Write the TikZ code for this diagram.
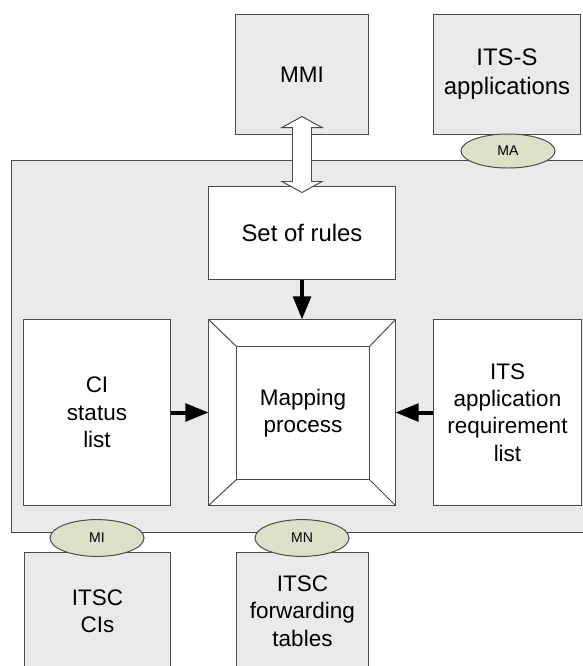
\documentclass[tikz,border=0pt]{standalone}
\usepackage{fontspec}
\setmainfont{Liberation Sans}
\usetikzlibrary{arrows.meta,calc,shapes.geometric}

\definecolor{panelgray}{HTML}{EAEAEA}
\definecolor{portgreen}{HTML}{DDE0C9}
\definecolor{edgegray}{HTML}{4A4A4A}

\tikzset{
  box/.style={draw=edgegray, line width=0.7pt, fill=white, align=center,
    inner sep=0pt, font=\fontsize{16}{19.5}\selectfont},
  graybox/.style={box, fill=panelgray},
  port/.style={ellipse, draw=edgegray, line width=0.7pt, fill=portgreen,
    minimum width=2.35cm, minimum height=0.92cm, inner sep=0pt,
    font=\fontsize{10}{12}\selectfont},
  feed/.style={line width=0.1cm, -{Triangle[length=0.58cm,width=0.44cm]}},
  dblarrow/.style={draw=edgegray, line width=0.7pt, fill=white}
}

\begin{document}
\begin{tikzpicture}[x=0.025cm, y=-0.025cm]
    \useasboundingbox (0,0) rectangle (583,666);
    \node[graybox, minimum width=14.7cm, minimum height=9.275cm] (core) at (306,346.5) {};
    \node[graybox, minimum width=3.3cm, minimum height=2.975cm] (mmi) at (302,74.5) {MMI};
    \node[graybox, minimum width=3.65cm, minimum height=2.975cm,
      font=\fontsize{17}{20.5}\selectfont] (apps) at (507,74.5) {ITS-S\\applications};
    \node[box, minimum width=4.65cm, minimum height=2.325cm,
      font=\fontsize{17}{20.5}\selectfont] (rules) at (302,232.5) {Set of rules};
    \node[box, minimum width=4.65cm, minimum height=4.625cm] (map) at (302,412.5) {};
    \node[box, minimum width=3.3cm, minimum height=3.3cm] (mapin) at (303,413) {Mapping\\process};
    \foreach \c in {north west, north east, south west, south east}
      \draw[draw=edgegray, line width=0.7pt] (map.\c) -- (mapin.\c);
    \node[box, minimum width=3.65cm, minimum height=4.65cm] (ci) at (97,412.5) {CI\\status\\list};
    \node[box, minimum width=3.675cm, minimum height=4.65cm] (req) at (507.5,412.5) {ITS\\application\\requirement\\list};
    \node[graybox, minimum width=3.625cm, minimum height=2.95cm] (itscci) at (97.5,611) {ITSC\\CIs};
    \node[graybox, minimum width=3.275cm, minimum height=2.95cm] (itscfwd) at (302.5,611) {ITSC\\forwarding\\tables};
    \node[port, minimum height=0.85cm] (ma) at (508,151) {MA};
    \node[port] (mi) at (97,538) {MI};
    \node[port] (mn) at (302,538) {MN};
    % MMI <-> rules
    \draw[dblarrow] ($(mmi.south)+(0,-18)$) -- ++(20,11) -- ++(-10.5,0)
      -- ($(rules.north)+(9.5,-4)$) -- ++(10.5,0) -- ($(rules.north)+(0,7)$)
      -- ++(-20,-11) -- ++(10.5,0) -- ($(mmi.south)+(-9.5,-7)$) -- ++(-10.5,0) -- cycle;
    \draw[feed] (rules) -- (map);
    \draw[feed] (ci) -- (map);
    \draw[feed] (req) -- (map);
\end{tikzpicture}
\end{document}
